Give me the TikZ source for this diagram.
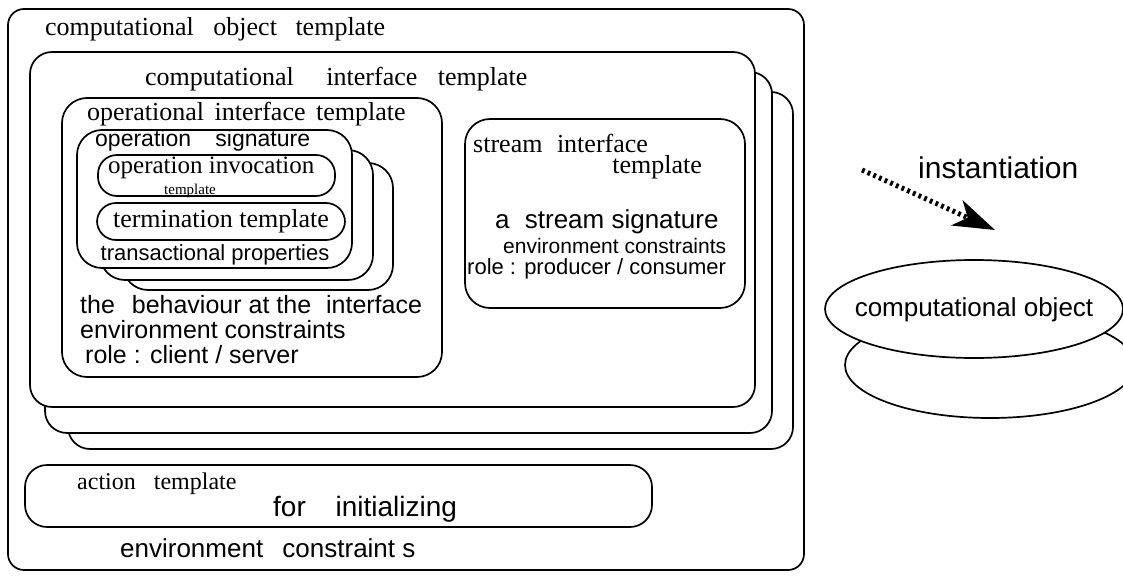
\documentclass[tikz,border=0pt]{standalone}
\usepackage{fontspec}
\setmainfont{Liberation Serif}
\newfontfamily\hv{Liberation Sans}
\usetikzlibrary{fit,arrows.meta,shapes.geometric}

\tikzset{
  frame/.style={draw, line width=1.7pt, fill=white, inner sep=0pt, rounded corners=#1},
  frame/.default=22pt,
  pill/.style={draw, line width=1.7pt, fill=white, inner sep=0pt, rounded corners=19pt},
  serif/.style={inner sep=0pt, font=\fontsize{#1}{#1}\selectfont},
  sans/.style={inner sep=0pt, font=\hv\fontsize{#1}{#1}\selectfont},
  disc/.style={draw, line width=1.7pt, fill=white, ellipse, inner sep=0pt},
  dotted arrow/.style={line width=5pt, dash pattern=on 2.8pt off 3.4pt,
    -{Stealth[length=42pt, width=28pt, inset=12pt, line width=0pt]}}
}

\begin{document}
\begin{tikzpicture}[x=1pt, y=-1pt]
\useasboundingbox (0,0) rectangle (1123,575);

% computational object template frame
\node[frame=16pt, fit={(8,9) (804,570)}] (obj) {};
\node[serif=26, anchor=west] (objtxt) at (45,29)
  {computational\hspace{13pt} object\hspace{12pt} template};

% stacked computational interface templates
\node[frame, fit={(68,92) (793,449)}] (cit3) {};
\node[frame, fit={(45,72) (772,433)}] (cit2) {};
\node[frame, fit={(30,52) (755,407)}] (cit1) {};
\node[serif=26, anchor=west] (cittxt) at (145,79)
  {computational\hspace{26pt} interface\hspace{14pt} template};

% operational interface template
\node[frame=25pt, fit={(62,98) (442,377)}] (oit) {};
\node[serif=26, anchor=west] (oittxt) at (87,114)
  {operational\hspace{4pt} interface\hspace{4pt} template};

% stacked operation signatures
\node[frame=25pt, fit={(123,163) (393,290)}] (os3) {};
\node[frame=25pt, fit={(100,150) (373,280)}] (os2) {};
\node[frame=25pt, fit={(77,130) (352,268)}] (os1) {};
\node[sans=23, anchor=west] (ostxt) at (95,141)
  {operation\hspace{18pt} signature};

\node[pill, fit={(98,155) (335,196)}] (inv) {};
\node[serif=25, anchor=west] (invtxt) at (108,168) {operation invocation};
\node[serif=15] (invtxt2) at (190,191) {template};

\node[pill, fit={(97,203) (345,240)}] (term) {};
\node[serif=26] (termtxt) at (221,221) {termination template};

\node[sans=22] (transtxt) at (215,255) {transactional properties};

\node[sans=25, anchor=west] (behtxt) at (80,305)
  {the\hspace{10pt} behaviour at the\hspace{8pt} interface};
\node[sans=25, anchor=west] (envtxt) at (80,330) {environment constraints};
\node[sans=25, anchor=west] (roletxt) at (85,355) {role : client / server};

% stream interface template
\node[frame=25pt, fit={(465,119) (745,308)}] (sit) {};
\node[serif=26, anchor=west] (sittxt) at (473,143)
  {stream\hspace{8pt} interface};
\node[serif=26, anchor=east] (sittxt2) at (702,167) {template};
\node[sans=26, anchor=west] (sstxt) at (495,222)
  {a\hspace{8pt} stream signature};
\node[sans=21, anchor=west] (senvtxt) at (503,246) {environment constraints};
\node[sans=22, anchor=west] (sroletxt) at (467,269) {role : producer / consumer};

% action template
\node[frame=22pt, fit={(25,465) (652,527)}] (act) {};
\node[serif=24, anchor=west] (acttxt) at (77,484)
  {action\hspace{12pt} template};
\node[sans=28, anchor=west] (inittxt) at (273,509)
  {for\hspace{22pt} initializing};
\node[sans=26, anchor=west] (aenvtxt) at (120,548)
  {environment\hspace{12pt} constraint s};

% instantiation
\node[sans=30, anchor=west] (insttxt) at (918,168) {instantiation};
\coordinate (instfrom) at (862,170);
\coordinate (instto) at (995,230);
\draw[dotted arrow] (instfrom) -- (instto);

% computational object
\begin{scope}
\clip (0,0) rectangle (1123,575);
\node[disc, minimum width=290pt, minimum height=106pt] (cobj2) at (990,365) {};
\node[disc, minimum width=298pt, minimum height=98pt] (cobj1) at (974,309) {};
\end{scope}
\node[sans=26] (cobjtxt) at (974,310) {computational object};

\end{tikzpicture}
\end{document}
